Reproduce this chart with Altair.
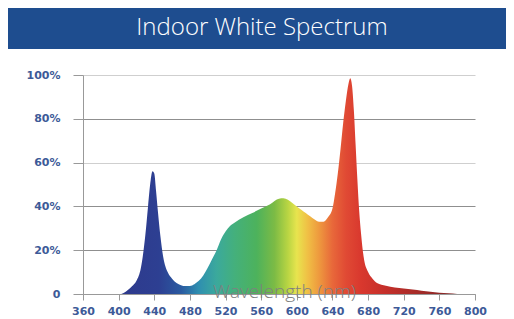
import altair as alt
import pandas as pd

# ---- data ----
wavelength = [403, 407, 411, 415, 420, 425, 430, 433, 436, 438, 440, 442, 444, 447, 450,
              455, 460, 465, 470, 475, 480, 485, 490, 495, 500, 505, 510, 515, 520, 525,
              530, 540, 550, 560, 570, 580, 585, 590, 595, 600, 605, 610, 615, 620, 625,
              630, 635, 640, 643, 646, 649, 652, 655, 658, 660, 662, 664, 666, 668, 670,
              672, 675, 680, 685, 690, 700, 710, 720, 730, 740, 750, 760, 770, 780]
intensity = [0, 0.8, 2, 3.5, 6, 12, 27, 40, 52, 56, 55, 47, 38, 26, 17,
             10, 7, 5, 4, 3.6, 3.7, 4.5, 6, 8.5, 12, 16, 20, 25, 28.5, 31,
             32.5, 35, 37, 39, 41, 43.5, 43.7, 43, 41.5, 40, 38.5, 37, 35.5, 34, 33,
             33, 35, 39, 46, 55, 66, 78, 88, 96, 98.5, 95, 84, 68, 52, 38,
             28, 17, 10, 7, 5, 3.8, 3, 2.5, 2, 1.5, 1, 0.6, 0.3, 0]

x_ticks = [360, 400, 440, 480, 520, 560, 600, 640, 680, 720, 760, 800]
y_ticks = [0, 20, 40, 60, 80, 100]

stop_nm = [403, 445, 470, 490, 510, 530, 555, 575, 590, 600, 612, 625, 640, 655, 672, 700, 780]
stop_col = ["#2e3a8c", "#2d3f92", "#2a5aa0", "#2f8fb0", "#3ba99c", "#44b07c", "#4db25c",
            "#7cbb45", "#b9d543", "#e8e44e", "#f0c045", "#ee993e", "#e8683a", "#e04a34",
            "#d9382e", "#c42f2a", "#7e2626"]

title_text = "Indoor White Spectrum"
x_title = "Wavelength (nm)"

df = pd.DataFrame({"nm": wavelength, "v": intensity})
lo, hi = min(wavelength), max(wavelength)
stops = [alt.GradientStop(offset=(n - lo) / (hi - lo), color=c) for n, c in zip(stop_nm, stop_col)]

label_blue = "#3d5a98"

area = alt.Chart(df).mark_area(
    interpolate="monotone",
    color=alt.Gradient(gradient="linear", stops=stops, x1=0, x2=1, y1=0, y2=0),
).encode(
    x=alt.X("nm:Q", scale=alt.Scale(domain=[360, 800], nice=False),
            axis=alt.Axis(values=x_ticks, title=x_title, titleX=201, titleY=3,
                          titleBaseline="alphabetic", titleAlign="center",
                          titleFont="Open Sans", titleFontSize=19, titleFontWeight=300,
                          titleColor="#808080", zindex=1,
                          labelFont="DejaVu Sans", labelFontWeight="bold", labelFontSize=11,
                          labelColor=label_blue, labelPadding=5, labelFlush=False,
                          labelOverlap=False,
                          tickSize=6, tickColor="#999999", domainColor="#999999", grid=False)),
    y=alt.Y("v:Q", scale=alt.Scale(domain=[0, 100], nice=False),
            axis=alt.Axis(values=y_ticks, title=None,
                          labelExpr="datum.value == 0 ? '0' : datum.value + '%'",
                          labelFont="DejaVu Sans", labelFontWeight="bold", labelFontSize=11,
                          labelColor=label_blue, labelPadding=13,
                          tickSize=10, tickColor="#999999", domainColor="#999999",
                          grid=True,
                          gridColor={"condition": {"test": "datum.value == 100 || datum.value == 60",
                                                   "value": "#cfcfcf"},
                                     "value": "#8f8f8f"},
                          gridWidth=1)),
)

bar_df = pd.DataFrame({"t": [title_text]})
band = alt.Chart(bar_df).mark_rect(color="#1e4d8f").encode(
    x=alt.value(-75), x2=alt.value(423), y=alt.value(-67), y2=alt.value(-26)
)
title = alt.Chart(bar_df).mark_text(
    color="white", font="Open Sans", fontSize=24, fontWeight=300, baseline="middle", align="center"
).encode(text="t:N", x=alt.value(179), y=alt.value(-47))

chart = alt.layer(band, title, area).properties(
    width=392, height=219,
    autosize=alt.AutoSizeParams(type="none"),
    padding={"left": 75, "top": 67, "right": 31, "bottom": 24},
).configure_view(stroke=None)

chart.save("out.html", embed_options={"renderer": "svg", "actions": False})
